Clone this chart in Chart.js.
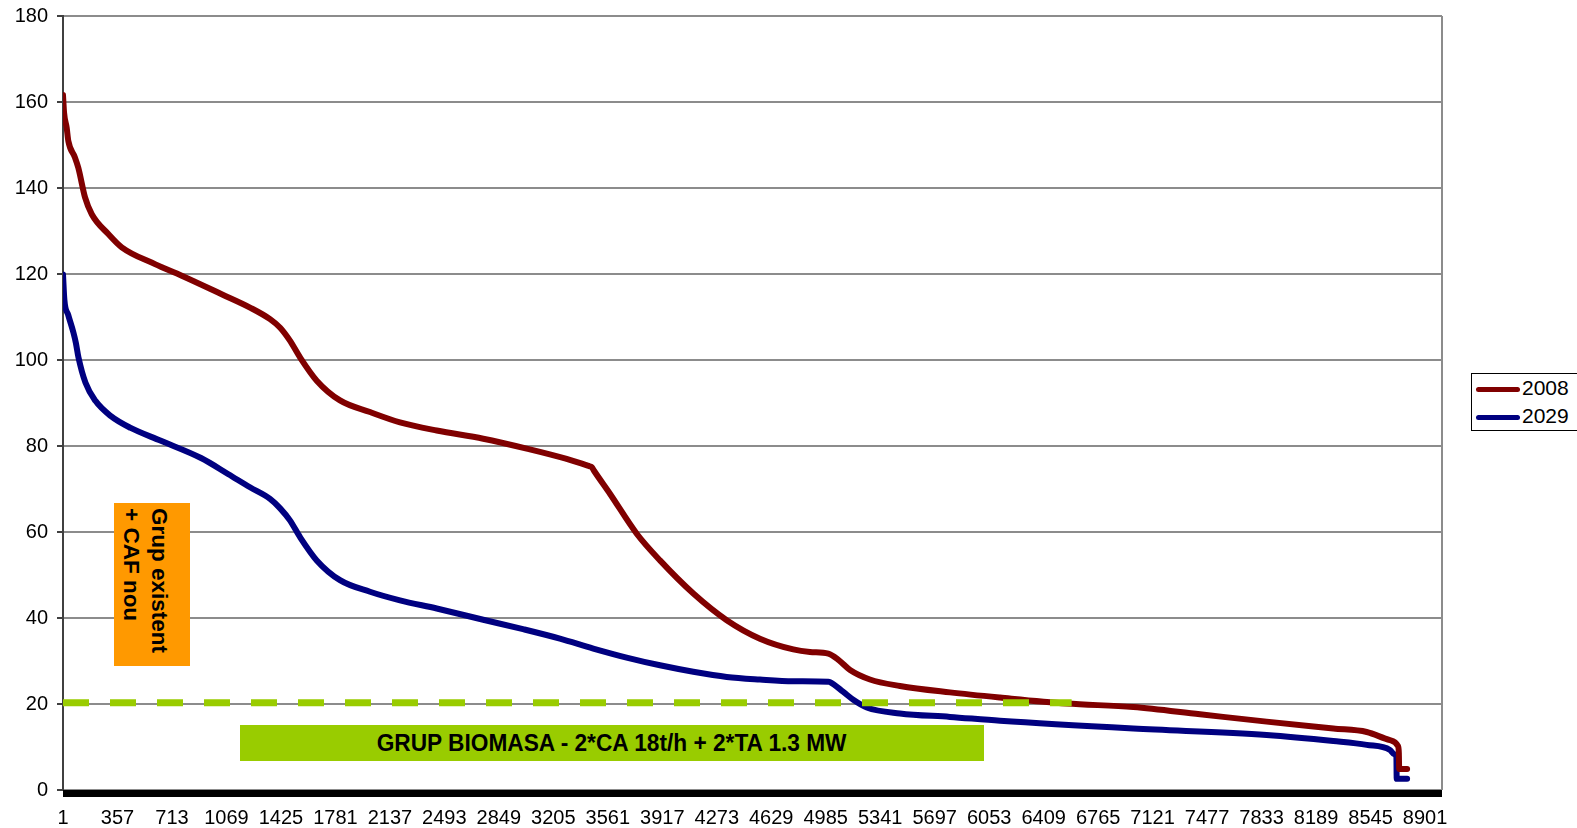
<!DOCTYPE html>
<html>
<head>
<meta charset="utf-8">
<script src="https://cdn.jsdelivr.net/npm/chart.js@4.4.0/dist/chart.umd.min.js"></script>
<style>
  html, body { margin: 0; padding: 0; background: #fff; }
  #wrap { position: relative; width: 1577px; height: 828px; overflow: hidden; }
  #chart { position: absolute; left: 0; top: 0; }
  .box { position: absolute; font-family: 'Liberation Sans', Arial, sans-serif; font-weight: bold; color: #000; box-sizing: border-box; }
  #caf { left: 114px; top: 503px; width: 76px; height: 163px; background: #ff9900;
         writing-mode: vertical-rl; font-size: 22.5px; line-height: 28px; padding-top: 5px; padding-right: 17px; }
  #bio { left: 240px; top: 725px; width: 744px; height: 36px; background: #99cc00;
         font-size: 24px; line-height: 36px; text-align: center; }
  #bio span { display: inline-block; transform: scaleX(0.945); }
  #legend { position: absolute; left: 1471px; top: 373px; width: 110px; height: 58px;
            border: 1px solid #000; box-sizing: border-box; background: #fff;
            font-family: 'Liberation Sans', Arial, sans-serif; font-size: 21px; color: #000; }
  #legend .row { position: absolute; left: 4px; height: 24px; line-height: 24px; white-space: nowrap; }
  #legend .swatch { display: inline-block; width: 44px; height: 5px; border-radius: 3px; vertical-align: middle; margin-right: 2px; }
</style>
</head>
<body>
<div id="wrap">
  <canvas id="chart" width="1577" height="828"></canvas>
  <div id="caf" class="box">Grup existent<br>+ CAF nou</div>
  <div id="bio" class="box"><span>GRUP BIOMASA - 2*CA 18t/h + 2*TA 1.3 MW</span></div>
  <div id="legend"></div>
</div>
<script>
// sorted hourly heat demand (load duration curves)
var hours2008 = [1, 8, 25, 36, 79, 101, 145, 189, 297, 385, 602, 777, 1038, 1223, 1354, 1420, 1484, 1550,
                 1659, 1811, 2007, 2203, 2443, 2747, 3031, 3292, 3440, 3456, 3470, 3575, 3750, 3902, 4120,
                 4338, 4555, 4773, 4882, 5002, 5070, 5144, 5274, 5470, 5797, 6124, 6559, 6995, 7431, 7866,
                 8302, 8520, 8672, 8725, 8730, 8732, 8784];
var load2008 = [161.6, 157.5, 154.0, 150.9, 147.1, 144.7, 137.8, 133.9, 129.3, 126.2, 122.3, 119.6, 115.3,
                112.2, 109.5, 107.5, 104.5, 100.6, 95.2, 90.6, 87.9, 85.5, 83.6, 81.7, 79.4, 77.0, 75.3,
                75.1, 74.3, 68.9, 59.6, 53.4, 45.7, 39.5, 35.2, 32.7, 32.1, 31.7, 30.2, 27.9, 25.7, 24.2,
                22.7, 21.5, 20.1, 19.3, 17.6, 15.9, 14.3, 13.5, 11.6, 10.2, 8.6, 4.9, 4.9];

var hours2029 = [1, 10, 35, 69, 85, 102, 148, 213, 312, 443, 641, 903, 1079, 1223, 1354, 1420, 1484, 1550,
                 1659, 1811, 2007, 2203, 2443, 2747, 3007, 3248, 3466, 3684, 3902, 4120, 4338, 4555, 4773,
                 5002, 5013, 5100, 5165, 5253, 5470, 5797, 6124, 6995, 7866, 8302, 8520, 8672, 8700, 8714,
                 8716, 8784];
var load2029 = [119.9, 114.0, 110.5, 106.4, 104.0, 100.6, 94.7, 90.5, 87.0, 84.2, 81.2, 77.2, 73.5, 70.4,
                67.7, 65.5, 62.7, 58.8, 53.4, 48.8, 46.1, 44.1, 42.2, 39.6, 37.4, 35.2, 32.9, 30.8, 29.0,
                27.5, 26.3, 25.7, 25.3, 25.2, 25.1, 22.8, 21.0, 19.2, 17.8, 17.0, 16.1, 14.3, 12.8, 11.4,
                10.5, 9.3, 8.3, 7.7, 2.6, 2.6];

// biomass unit base load
var biomassHours = [1, 6592];
var biomassLoad = 20.3;

var seriesNames = ['2008', '2029'];
var seriesColors = ['#800000', '#000080'];
var xTickLabels = [1, 357, 713, 1069, 1425, 1781, 2137, 2493, 2849, 3205, 3561, 3917, 4273, 4629,
                   4985, 5341, 5697, 6053, 6409, 6765, 7121, 7477, 7833, 8189, 8545, 8901];
var xMax = 9012;

function toPoints(xs, ys) {
  return xs.map(function (x, i) { return { x: x, y: ys[i] }; });
}

// right border of the plot and the heavy bottom axis
var framePlugin = {
  id: 'frame',
  afterDatasetsDraw: function (chart) {
    var ctx = chart.ctx, area = chart.chartArea;
    var y0 = chart.scales.y.getPixelForValue(0);
    ctx.save();
    ctx.strokeStyle = '#8c8c8c';
    ctx.lineWidth = 2;
    ctx.beginPath();
    ctx.moveTo(area.right, area.top);
    ctx.lineTo(area.right, y0);
    ctx.stroke();
    ctx.fillStyle = '#000';
    ctx.fillRect(area.left, y0, area.right - area.left, 7);
    ctx.restore();
  }
};

var ctx = document.getElementById('chart').getContext('2d');
var myChart = new Chart(ctx, {
  type: 'line',
  data: {
    datasets: [{
      label: 'biomasa',
      data: toPoints(biomassHours, biomassHours.map(function () { return biomassLoad; })),
      borderColor: '#99cc00',
      borderWidth: 7,
      borderDash: [26, 21],
      borderCapStyle: 'butt',
      pointRadius: 0,
      order: 0
    }, {
      label: seriesNames[0],
      data: toPoints(hours2008, load2008),
      borderColor: seriesColors[0],
      borderWidth: 6,
      borderCapStyle: 'round',
      borderJoinStyle: 'round',
      cubicInterpolationMode: 'monotone',
      pointRadius: 0,
      order: 1
    }, {
      label: seriesNames[1],
      data: toPoints(hours2029, load2029),
      borderColor: seriesColors[1],
      borderWidth: 6,
      borderCapStyle: 'round',
      borderJoinStyle: 'round',
      cubicInterpolationMode: 'monotone',
      pointRadius: 0,
      order: 2
    }]
  },
  options: {
    responsive: false,
    animation: false,
    layout: { padding: { top: 16, right: 135, left: 0, bottom: 0 } },
    plugins: { legend: { display: false }, tooltip: { enabled: false } },
    scales: {
      x: {
        type: 'linear',
        min: 1,
        max: xMax,
        afterBuildTicks: function (scale) {
          scale.ticks = xTickLabels.map(function (v) { return { value: v }; });
        },
        afterFit: function (scale) { scale.height = 38; },
        grid: { display: false, drawTicks: false },
        border: { display: false },
        ticks: {
          autoSkip: false,
          maxRotation: 0,
          padding: 16,
          color: '#000',
          font: { family: "'Liberation Sans', Arial, sans-serif", size: 20 },
          callback: function (v) { return String(v); }
        }
      },
      y: {
        min: 0,
        max: 180,
        afterFit: function (scale) {
          scale.width = 63;
          scale.paddingTop = 0;
          scale.paddingBottom = 0;
        },
        grid: { color: '#8c8c8c', lineWidth: 2, tickLength: 6, tickColor: '#404040' },
        border: { color: '#404040', width: 2 },
        ticks: {
          stepSize: 20,
          padding: 9,
          color: '#000',
          font: { family: "'Liberation Sans', Arial, sans-serif", size: 20 }
        }
      }
    }
  },
  plugins: [framePlugin]
});

// legend box on the right
var legend = document.getElementById('legend');
seriesNames.forEach(function (name, i) {
  var row = document.createElement('div');
  row.className = 'row';
  row.style.top = (2 + i * 28) + 'px';
  row.innerHTML = '<span class="swatch" style="background:' + seriesColors[i] + '"></span>' + name;
  legend.appendChild(row);
});
</script>
</body>
</html>
